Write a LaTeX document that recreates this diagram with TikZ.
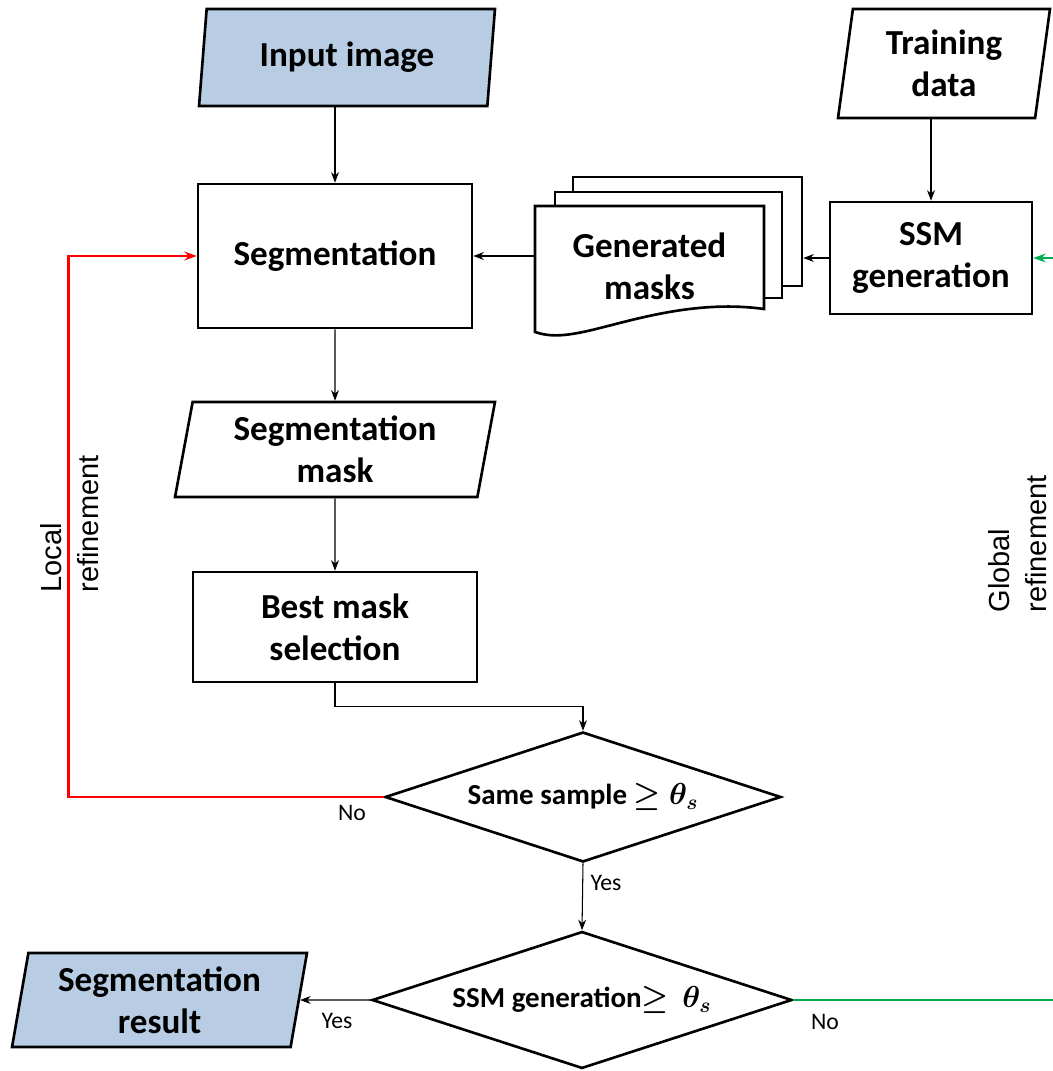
\documentclass[tikz,border=0pt]{standalone}
\usepackage{amsmath,amssymb,bm}
\usepackage{fontspec}
\setmainfont{Carlito}
\newfontfamily\arialfont{Liberation Sans}
\usetikzlibrary{shapes.geometric,arrows.meta,positioning,calc}
\definecolor{ioblue}{RGB}{184,204,228}
\definecolor{lnred}{RGB}{255,0,0}
\definecolor{lngreen}{RGB}{0,176,80}
\tikzset{
  bigtxt/.style={font=\fontsize{20}{24}\selectfont\bfseries, align=center},
  proc/.style={draw, line width=1.5pt, bigtxt, inner sep=0pt},
  io/.style={trapezium, trapezium stretches body, draw, line width=1.5pt, bigtxt, inner sep=0pt},
  decision/.style={diamond, aspect=3, draw, line width=1.5pt, inner sep=0pt, font=\fontsize{16.5}{20}\selectfont\bfseries},
  flow/.style={-{Stealth[length=6pt,width=4.5pt]}, line width=0.6pt},
  lbl/.style={font=\fontsize{13.5}{16}\selectfont},
  sidetxt/.style={rotate=90, align=left, font=\arialfont\fontsize{16.5}{21}\selectfont},
}

\begin{document}
\begin{tikzpicture}[x=0.02cm, y=-0.02cm]
  \useasboundingbox (0,0) rectangle (1052,1071);

  % inputs
  \node[io, fill=ioblue, trapezium left angle=76, trapezium right angle=104,
        minimum width=5.92cm, minimum height=1.94cm] (inp) at (347,57.5) {Input image};
  \node[io, trapezium left angle=77.5, trapezium right angle=102.5,
        minimum width=4.24cm, minimum height=2.18cm] (train) at (944,63.5) {Training\\data};

  % main column
  \node[proc, minimum width=5.48cm, minimum height=2.88cm] (seg) at (335,256) {Segmentation};
  \node[io, trapezium left angle=75.3, trapezium right angle=104.7,
        minimum width=6.4cm, minimum height=1.9cm] (segmask) at (335,449.5) {Segmentation\\mask};
  \node[proc, minimum width=5.68cm, minimum height=2.2cm] (best) at (335,627) {Best mask\\selection};

  % SSM and the stack of generated masks
  \node[proc, minimum width=4.04cm, minimum height=2.24cm] (ssm) at (931,258) {SSM\\generation};
  \node[draw, fill=white, line width=1.5pt, minimum width=4.58cm, minimum height=2.18cm] (sheetc) at (687.5,231.5) {};
  \node[draw, fill=white, line width=1.5pt, minimum width=4.54cm, minimum height=2.12cm] (sheetb) at (668.5,245) {};
  \draw[fill=white, line width=1.5pt] (535,206) -- (764,206) -- (764,309)
        .. controls (700,300) and (640,318) .. (600,328)
        .. controls (565,337) and (550,337) .. (535,332) -- cycle;
  \node[bigtxt, minimum width=4.58cm, minimum height=2.58cm] (masks) at (649.5,266) {Generated\\masks};

  % decisions
  \node[decision, minimum width=7.92cm, minimum height=2.6cm] (same) at (583,797) {Same sample $\bm{\geq\theta_s}$};
  \node[decision, aspect=3.07, minimum width=8.4cm, minimum height=2.74cm] (ssmdec) at (582,1000) {SSM generation$\bm{\geq\,\theta_s}$};

  % output
  \node[io, fill=ioblue, trapezium left angle=76.3, trapezium right angle=103.7,
        minimum width=5.9cm, minimum height=1.88cm] (result) at (159.5,1000) {Segmentation\\result};

  % connectors
  \draw[flow] (seg.north |- inp.south) -- (seg.north);
  \draw[flow] (ssm.north |- train.south) -- (ssm.north);
  \draw[flow] (ssm.west) -- (sheetc.east |- ssm.west);
  \draw[flow] (masks.west |- seg.east) -- (seg.east);
  \draw[flow] (seg.south) -- (segmask.north);
  \draw[flow] (segmask.south) -- (best.north);
  \draw[flow] (best.south) -- ++(0,23) -| (same.north);
  \draw[flow] (same.south) -- (ssmdec.north);
  \draw[flow] (ssmdec.west) -- (result.east);

  % refinement loops
  \draw[lnred, line width=1.5pt, -{Stealth[length=7pt,width=5pt]}] (same.west) -- ++(-315,0) |- (seg.west);
  \draw[lngreen, line width=1.3pt, -{Stealth[length=7pt,width=5pt]}] (ssmdec.east) -- ++(275,0) |- (ssm.east);

  % labels
  \node[lbl] (no1) at (352,813) {No};
  \node[lbl] (yes1) at (606,883) {Yes};
  \node[lbl] (yes2) at (337,1021) {Yes};
  \node[lbl] (no2) at (825,1022) {No};
  \node[sidetxt] (loclbl) at (70,524) {Local\\refinement};
  \node[sidetxt] (globlbl) at (1018,544) {Global\\refinement};
\end{tikzpicture}
\end{document}
